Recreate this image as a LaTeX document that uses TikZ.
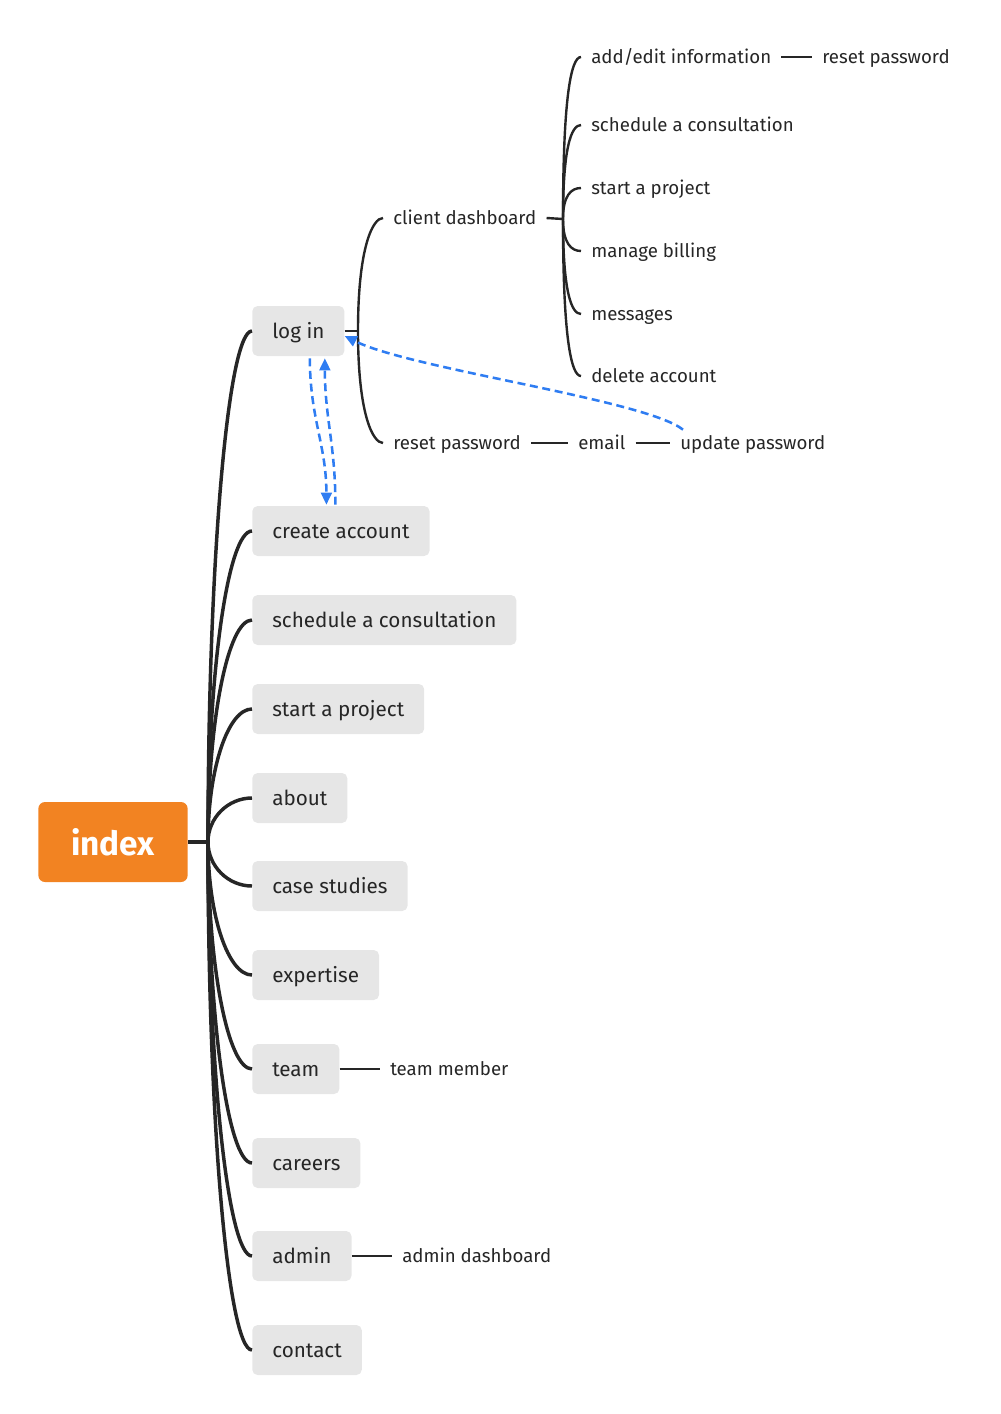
\documentclass[tikz,border=0pt]{standalone}
\usepackage{fontspec}
\setmainfont{Fira Sans}
\usetikzlibrary{calc,arrows.meta}
\definecolor{idxorange}{HTML}{F28322}
\definecolor{boxgray}{HTML}{E6E6E6}
\definecolor{inkgray}{HTML}{262626}
\definecolor{linkblue}{HTML}{2F7DF2}
\tikzset{
  topic/.style={fill=boxgray, rounded corners=4pt, text=inkgray, anchor=west,
    font=\fontsize{15.5}{18}\selectfont, inner xsep=15pt, minimum height=37.5pt,
    text height=12.5pt, text depth=2pt},
  leaf/.style={text=inkgray, anchor=west, font=\fontsize{14}{16}\selectfont, inner xsep=7.5pt,
    text height=11.5pt, text depth=1.5pt},
  branch/.style={draw=inkgray, line width=2.6pt},
  twig/.style={draw=inkgray, line width=1.8pt},
  jump/.style={draw=linkblue, line width=1.9pt, dash pattern=on 6pt off 3.5pt,
    -{Triangle[length=9pt,width=8pt]}}
}
\begin{document}
\begin{tikzpicture}[x=0.75pt,y=-0.75pt]
  \useasboundingbox (0,0) rectangle (1000,1414);
  % Root
  \node[fill=idxorange, rounded corners=5pt, minimum width=112pt, minimum height=60pt,
    text=white, font=\bfseries\fontsize{25}{30}\selectfont] (index) at (113,842) {index};
  \coordinate (hub) at (208,842);
  % Level 1
  \node[topic] (login) at (252,331) {log in};
  \node[topic] (createacct) at (252,531) {create account};
  \node[topic] (consult) at (252,620) {schedule a consultation};
  \node[topic] (project) at (252,709) {start a project};
  \node[topic] (about) at (252,798) {about};
  \node[topic] (cases) at (252,886) {case studies};
  \node[topic] (expertise) at (252,975) {expertise};
  \node[topic] (team) at (252,1069) {team};
  \node[topic] (careers) at (252,1163) {careers};
  \node[topic] (admin) at (252,1256) {admin};
  \node[topic] (contact) at (252,1350) {contact};
  % Level 2
  \coordinate (loginhub) at (358,331);
  \node[leaf] (client) at (383,218) {client dashboard};
  \node[leaf] (resetpw) at (383,443) {reset password};
  \node[leaf] (email) at (568,443) {email};
  \node[leaf] (updatepw) at (670,443) {update password};
  \node[leaf] (member) at (380,1069) {team member};
  \node[leaf] (admindash) at (392,1256) {admin dashboard};
  % Level 3
  \coordinate (clienthub) at (563,219);
  \node[leaf] (addedit) at (581,57) {add/edit information};
  \node[leaf] (resetpwb) at (812,57) {reset password};
  \node[leaf] (clconsult) at (581,125) {schedule a consultation};
  \node[leaf] (clproject) at (581,188) {start a project};
  \node[leaf] (billing) at (581,251) {manage billing};
  \node[leaf] (messages) at (581,314) {messages};
  \node[leaf] (delacct) at (581,376) {delete account};
  % Edges
  \draw[branch] (index.east) -- (hub);
  \foreach \n/\y in {login/331,createacct/531,consult/620,project/709,about/798,
    cases/886,expertise/975,team/1069,careers/1163,admin/1256,contact/1350}
    \draw[branch] (hub) .. controls (208,{\y+0.45*(842-\y)}) and +(-24,0) .. (\n.west);
  \draw[twig] (login.east) -- (loginhub);
  \foreach \n/\y in {client/218,resetpw/443}
    \draw[twig] (loginhub) .. controls (358,{\y+0.25*(331-\y)}) and +(-10,0) .. (\n.west);
  \draw[twig] (client.east) -- (clienthub);
  \foreach \n/\y in {addedit/57,clconsult/125,clproject/188,billing/251,messages/314,delacct/376}
    \draw[twig] (clienthub) .. controls (563,{\y+0.25*(219-\y)}) and +(-10,0) .. (\n.west);
  \foreach \x/\y in {addedit/resetpwb,resetpw/email,email/updatepw,team/member,admin/admindash}
    \draw[twig] (\x)--(\y);
  % Links
  \draw[jump] ($(login.south)+(11.5,2)$) .. controls +(0,60) and +(0,-60) .. ($(createacct.north)+(-14.5,-1)$);
  \draw[jump] ($(createacct.north)+(-5.5,-1)$) .. controls +(0,-60) and +(0,60) .. ($(login.south)+(26.5,2)$);
  \draw[jump] ($(updatepw.north west)+(13,0)$) .. controls +(-38,-30) and +(66,33) .. ($(login.east)+(0,5)$);
\end{tikzpicture}
\end{document}
